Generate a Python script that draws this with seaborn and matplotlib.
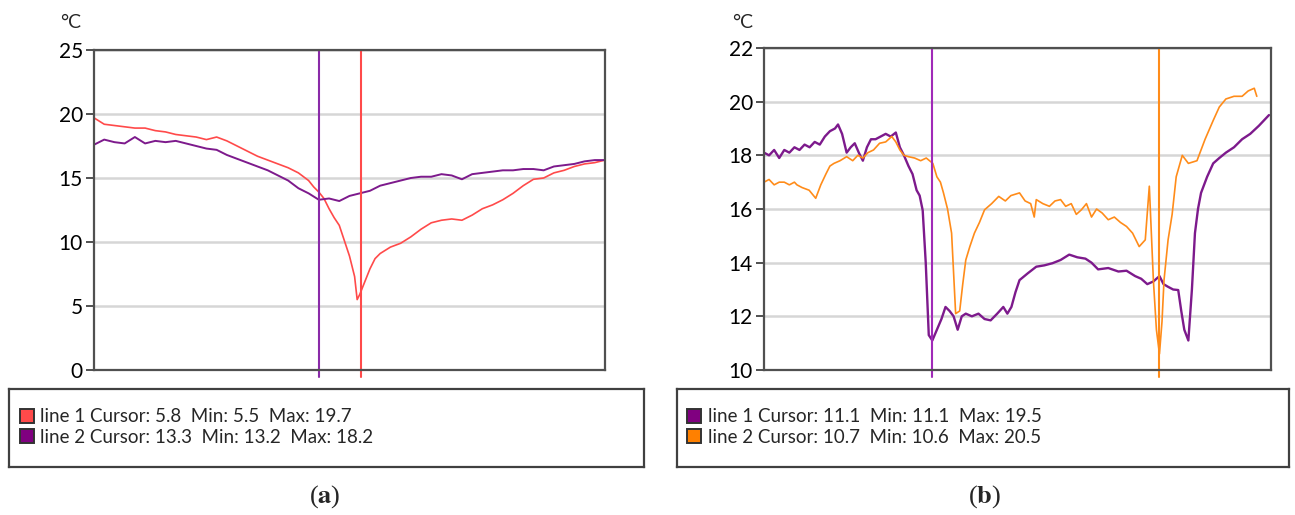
import seaborn as sns
import numpy as np
import pandas as pd
import matplotlib.pyplot as plt
from matplotlib.lines import Line2D

sns.set_style("white")
plt.rcParams['font.family'] = ['Lato', 'DejaVu Sans']
plt.rcParams['mathtext.fontset'] = 'stix'

# ---- panel (a) data (x = sample position, 0..100) ----
a1_x = [0, 2, 4, 6, 8, 10, 12, 14, 16, 18, 20, 22, 24, 26, 28, 30, 32, 34, 36, 38, 40, 42, 43,
        44, 45, 46, 47, 48, 49, 50, 51, 51.5, 52, 53, 54, 55, 56, 58, 60, 62, 64, 66, 68, 70,
        72, 74, 76, 78, 80, 82, 84, 86, 88, 90, 92, 94, 96, 98, 100]
a1_y = [19.7, 19.2, 19.1, 19.0, 18.9, 18.9, 18.7, 18.6, 18.4, 18.3, 18.2, 18.0, 18.2, 17.9, 17.5,
        17.1, 16.7, 16.4, 16.1, 15.8, 15.4, 14.8, 14.3, 13.9, 13.4, 12.6, 11.9, 11.3, 10.1, 8.9,
        7.3, 5.5, 5.9, 6.9, 7.9, 8.7, 9.1, 9.6, 9.9, 10.4, 11.0, 11.5, 11.7, 11.8, 11.7, 12.1,
        12.6, 12.9, 13.3, 13.8, 14.4, 14.9, 15.0, 15.4, 15.6, 15.9, 16.1, 16.2, 16.4]
a2_x = [0, 2, 4, 6, 8, 10, 12, 14, 16, 18, 20, 22, 24, 26, 28, 30, 32, 34, 36, 38, 40, 42, 44,
        46, 48, 50, 52, 54, 56, 58, 60, 62, 64, 66, 68, 70, 72, 74, 76, 78, 80, 82, 84, 86, 88,
        90, 92, 94, 96, 98, 100]
a2_y = [17.6, 18.0, 17.8, 17.7, 18.2, 17.7, 17.9, 17.8, 17.9, 17.7, 17.5, 17.3, 17.2, 16.8, 16.5,
        16.2, 15.9, 15.6, 15.2, 14.8, 14.2, 13.8, 13.3, 13.4, 13.2, 13.6, 13.8, 14.0, 14.4, 14.6,
        14.8, 15.0, 15.1, 15.1, 15.3, 15.2, 14.9, 15.3, 15.4, 15.5, 15.6, 15.6, 15.7, 15.7, 15.6,
        15.9, 16.0, 16.1, 16.3, 16.4, 16.4]
a_cursor = [44, 52.3]
a_legend = ["line 1 Cursor: 5.8  Min: 5.5  Max: 19.7", "line 2 Cursor: 13.3  Min: 13.2  Max: 18.2"]

# ---- panel (b) data ----
b1_x = [0, 1, 2, 3, 4, 5, 6, 7, 8, 9, 10, 11, 12, 13, 14, 14.6, 15.4, 16.3, 17.1, 17.9, 18.7,
        19.5, 20.3, 21.1, 22, 23, 24, 25, 26, 26.8, 27.6, 28.5, 29.3, 30.1, 30.7, 31.3, 31.9,
        32.5, 33.2, 34.1, 35, 35.8, 36.6, 37.4, 38.2, 39, 39.8, 41, 42.3, 43.5, 44.7, 46, 47.2,
        48, 48.8, 49.6, 50.4, 52, 53.7, 55.3, 56.9, 58.5, 60.2, 61.8, 63.4, 64.6, 65.9, 67.9,
        69.9, 71.5, 73.2, 74.4, 75.6, 76.8, 78, 78.8, 79.7, 80.7, 81.7, 82.3, 82.9, 83.7, 84.4,
        85, 85.6, 86.2, 87.4, 88.6, 89.8, 91.1, 92.7, 94.3, 95.9, 97.6, 98.6, 99.6]
b1_y = [18.1, 18.0, 18.2, 17.9, 18.2, 18.1, 18.3, 18.2, 18.4, 18.3, 18.5, 18.4, 18.7, 18.9, 19.0,
        19.15, 18.8, 18.1, 18.3, 18.45, 18.1, 17.8, 18.3, 18.6, 18.6, 18.7, 18.8, 18.7, 18.85,
        18.3, 18.0, 17.6, 17.3, 16.7, 16.5, 15.95, 14.0, 11.3, 11.1, 11.5, 11.9, 12.35, 12.2,
        12.0, 11.5, 12.0, 12.1, 12.0, 12.1, 11.9, 11.85, 12.1, 12.35, 12.1, 12.35, 12.9, 13.35,
        13.6, 13.85, 13.9, 13.98, 14.1, 14.3, 14.2, 14.15, 14.0, 13.75, 13.8, 13.67, 13.7, 13.5,
        13.4, 13.2, 13.3, 13.5, 13.2, 13.1, 13.0, 12.98, 12.2, 11.5, 11.1, 13.0, 15.1, 16.0, 16.6,
        17.2, 17.7, 17.9, 18.1, 18.3, 18.6, 18.8, 19.1, 19.3, 19.5]
b2_x = [0, 1, 2, 3, 4, 5, 6, 6.5, 7.5, 8.9, 10.2, 11.2, 12.2, 13, 13.8, 15, 16.3, 17.5, 18.5,
        19.5, 20.5, 21.6, 22.8, 24, 25.2, 26, 26.8, 27.6, 28.5, 29.7, 30.9, 32, 33.3, 34.1, 34.8,
        35.4, 36.2, 37, 37.8, 38.6, 39.2, 39.8, 40.6, 41.5, 42.5, 43.5, 44.9, 46.3, 47.6, 48.7,
        50.4, 51.5, 52.6, 53.3, 53.7, 55, 56.3, 57.4, 58.5, 59.5, 60.6, 61.6, 62.6, 63.6, 64.6,
        65.6, 66.7, 67.9, 69.1, 70.3, 71.5, 72.7, 74, 75.2, 76, 76.8, 77.4, 78, 78.5, 78.9, 79.7,
        80.5, 81.3, 82.5, 83.7, 85.4, 87, 88.6, 89.8, 91.1, 92.7, 94.3, 95.5, 96.7, 97.2]
b2_y = [17.0, 17.1, 16.9, 17.0, 17.0, 16.9, 17.0, 16.9, 16.8, 16.7, 16.4, 16.9, 17.3, 17.6, 17.7,
        17.8, 17.95, 17.8, 18.0, 17.9, 18.1, 18.2, 18.45, 18.5, 18.7, 18.5, 18.2, 18.0, 17.95,
        17.9, 17.8, 17.9, 17.7, 17.2, 17.0, 16.6, 16.0, 15.1, 12.1, 12.2, 13.2, 14.1, 14.6, 15.1,
        15.5, 15.97, 16.2, 16.47, 16.3, 16.5, 16.6, 16.3, 16.2, 15.7, 16.35, 16.2, 16.1, 16.3,
        16.35, 16.1, 16.2, 15.8, 15.97, 16.2, 15.7, 16.0, 15.85, 15.6, 15.7, 15.5, 15.35, 15.1,
        14.6, 14.85, 16.85, 13.35, 11.5, 10.6, 11.8, 13.35, 14.85, 15.8, 17.2, 18.0, 17.7, 17.8,
        18.6, 19.3, 19.8, 20.1, 20.2, 20.2, 20.4, 20.5, 20.2]
b_cursor = [33.2, 77.9]
b_legend = ["line 1 Cursor: 11.1  Min: 11.1  Max: 19.5", "line 2 Cursor: 10.7  Min: 10.6  Max: 20.5"]

RED = "#ff4a4a"
PURPLE = "#7d1a8c"
ORANGE = "#ff8c1a"
SPINE = "#505050"

fig = plt.figure(figsize=(12.95, 5.15), dpi=100)


def style_axes(ax, ylim, yticks):
    ax.set_xlim(0, 100)
    ax.set_ylim(*ylim)
    ax.set_yticks(yticks)
    ax.set_xticks([])
    ax.set_xlabel("")
    ax.set_ylabel("")
    ax.yaxis.grid(True, color="#d6d6d6", lw=1.8)
    ax.set_axisbelow(True)
    for s in ax.spines.values():
        s.set_color(SPINE)
        s.set_linewidth(1.6)
    ax.tick_params(axis="y", left=True, length=6, width=1.4, color=SPINE,
                   labelsize=15, pad=2, labelcolor="black")


def draw_legend_box(rect, colors, labels):
    lax = fig.add_axes(rect)
    lax.set_xticks([])
    lax.set_yticks([])
    for s in lax.spines.values():
        s.set_color("#404040")
        s.set_linewidth(1.6)
    handles = [Line2D([], [], marker="s", linestyle="none", markersize=10.5,
                      markerfacecolor=c, markeredgecolor="#333333", markeredgewidth=1.4)
               for c in colors]
    lax.legend(handles, labels, loc="upper left", bbox_to_anchor=(0.004, 0.85),
               frameon=False, fontsize=13.5, handlelength=0.8, handletextpad=0.3,
               labelspacing=0.2, borderaxespad=0)


# ---- (a) ----
ax_a = fig.add_axes([94 / 1295, 1 - 370 / 515, 511 / 1295, 320 / 515])
sns.lineplot(x=a1_x, y=a1_y, ax=ax_a, color=RED, lw=1.2)
sns.lineplot(x=a2_x, y=a2_y, ax=ax_a, color=PURPLE, lw=1.4)
style_axes(ax_a, (0, 25), [0, 5, 10, 15, 20, 25])
ax_a.axvline(a_cursor[0], ymin=-0.022, ymax=1, color="#8a2aa8", lw=1.5, clip_on=False)
ax_a.axvline(a_cursor[1], ymin=-0.022, ymax=1, color=RED, lw=1.5, clip_on=False)
fig.text(60 / 1295, 1 - 22 / 515, "°C", fontsize=14, va="center")

# ---- (b) ----
ax_b = fig.add_axes([764 / 1295, 1 - 370 / 515, 507 / 1295, 322 / 515])
sns.lineplot(x=b1_x, y=b1_y, ax=ax_b, color=PURPLE, lw=1.7)
sns.lineplot(x=b2_x, y=b2_y, ax=ax_b, color=ORANGE, lw=1.2)
style_axes(ax_b, (10, 22), [10, 12, 14, 16, 18, 20, 22])
ax_b.axvline(b_cursor[0], ymin=-0.022, ymax=1, color="#a02ab8", lw=1.5, clip_on=False)
ax_b.axvline(b_cursor[1], ymin=-0.022, ymax=1, color=ORANGE, lw=1.5, clip_on=False)
fig.text(732 / 1295, 1 - 22 / 515, "°C", fontsize=14, va="center")

# ---- legend boxes ----
draw_legend_box([9 / 1295, 1 - 467 / 515, 635 / 1295, 78 / 515], [RED, "#800080"], a_legend)
draw_legend_box([677 / 1295, 1 - 467 / 515, 612 / 1295, 78 / 515], ["#800080", "#ff8000"], b_legend)

# ---- panel labels ----
fig.text(325 / 1295, 1 - 497 / 515, r"($\mathbf{a}$)", fontsize=19, ha="center", va="center",
         family="Liberation Serif")
fig.text(985 / 1295, 1 - 497 / 515, r"($\mathbf{b}$)", fontsize=19, ha="center", va="center",
         family="Liberation Serif")

plt.savefig("out.png", dpi=100)
